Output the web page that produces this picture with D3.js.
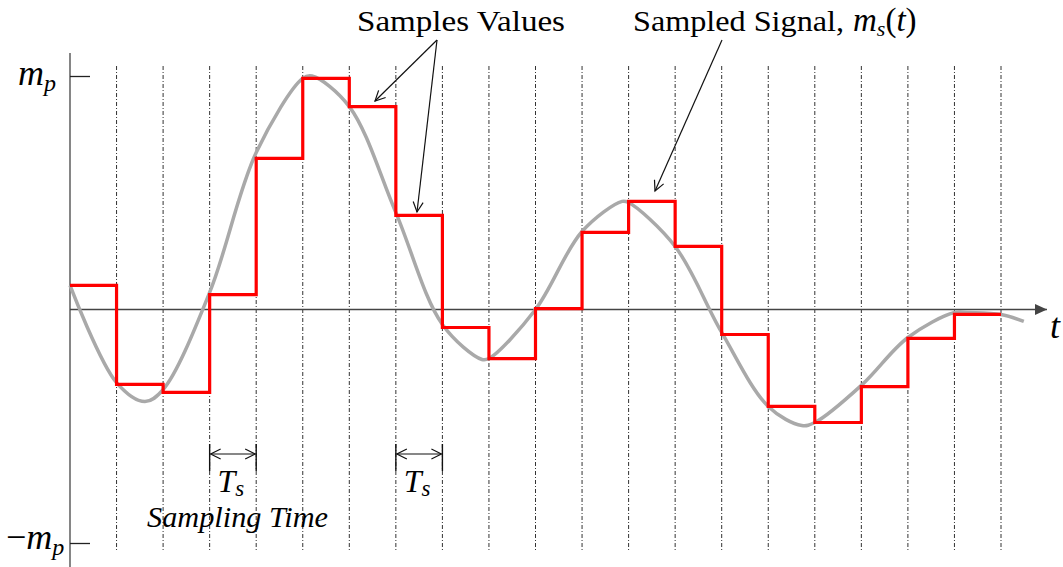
<!DOCTYPE html>
<html><head><meta charset="utf-8">
<script src="https://cdn.jsdelivr.net/npm/d3@7"></script>
<style>html,body{margin:0;padding:0;background:#fff;}svg{display:block;}</style>
</head><body>
<svg id="c" width="1063" height="567"></svg>
<script>
// sample index (time in units of Ts) and sampled values (normalised to m_p = 1)
const sampleT = [0,1,2,3,4,5,6,7,8,9,10,11,12,13,14,15,16,17,18,19];
const sampleV = [0.103,-0.321,-0.355,0.064,0.647,0.99,0.869,0.403,-0.077,-0.210,0.004,0.330,0.463,0.270,-0.107,-0.415,-0.484,-0.330,-0.124,-0.021];
const holdEnd = 20;
// continuous message signal m(t)
const curveT = [0,1,1.61,2,3,4,5,5.2,6,7,8,8.85,9,10,11,11.86,12,13,14,15,15.72,16,17,18,19,19.33,20,20.49];
const curveV = [0.103,-0.313,-0.394,-0.343,0.073,0.672,0.99,1.0,0.869,0.415,-0.064,-0.214,-0.21,0.0,0.334,0.463,0.458,0.27,-0.098,-0.415,-0.497,-0.484,-0.325,-0.12,-0.013,-0.013,-0.021,-0.051];
const yTicks = [1,-1];
const gridT = [1,2,3,4,5,6,7,8,9,10,11,12,13,14,15,16,17,18,19,20];
const tsMarks = [[3,4],[7,8]];

const svg = d3.select("#c");
const x = d3.scaleLinear().domain([0,20]).range([70,1001]);
const y = d3.scaleLinear().domain([-1,1]).range([543,76]);
const SERIF = "Liberation Serif, Times New Roman, serif";
const AX = "#444";

const defs = svg.append("defs");
defs.append("marker").attr("id","open").attr("viewBox","-12 -6 14 12")
  .attr("refX",0).attr("refY",0).attr("markerWidth",14).attr("markerHeight",12)
  .attr("markerUnits","userSpaceOnUse").attr("orient","auto-start-reverse")
  .append("path").attr("d","M-10,-5 L0,0 L-10,5").attr("fill","none").attr("stroke","#111").attr("stroke-width",1.2);
defs.append("marker").attr("id","tri").attr("viewBox","-12 -6 14 12")
  .attr("refX",0).attr("refY",0).attr("markerWidth",14).attr("markerHeight",12)
  .attr("markerUnits","userSpaceOnUse").attr("orient","auto")
  .append("path").attr("d","M-12,-5.5 L0,0 L-12,5.5 Z").attr("fill","#444");

// grid (sampling instants)
svg.append("g").selectAll("line").data(gridT).join("line")
  .attr("x1",d=>x(d)).attr("x2",d=>x(d)).attr("y1",66).attr("y2",551)
  .attr("stroke","#333").attr("stroke-width",1).attr("stroke-dasharray","4,2,1,2");

// y axis line
svg.append("line").attr("x1",x(0)).attr("x2",x(0)).attr("y1",53).attr("y2",567)
  .attr("stroke",AX).attr("stroke-width",1.3);
const yAxis = svg.append("g").attr("transform",`translate(${x(0)},0)`)
  .call(d3.axisRight(y).tickValues(yTicks).tickSize(20).tickFormat(""));
yAxis.select(".domain").remove();
yAxis.selectAll(".tick line").attr("stroke","#222").attr("stroke-width",1.3);

// x axis with arrow
svg.append("line").attr("x1",x(0)).attr("x2",1047).attr("y1",y(0)).attr("y2",y(0))
  .attr("stroke",AX).attr("stroke-width",1.3).attr("marker-end","url(#tri)");

// message signal
svg.append("path").datum(curveT.map((t,i)=>[t,curveV[i]]))
  .attr("d",d3.line().x(d=>x(d[0])).y(d=>y(d[1])).curve(d3.curveCatmullRom.alpha(0.5)))
  .attr("fill","none").attr("stroke","#a9a9a9").attr("stroke-width",3.5);

// sample-and-hold
const stepPts = sampleT.map((t,i)=>[t,sampleV[i]]).concat([[holdEnd,sampleV[sampleV.length-1]]]);
svg.append("path").datum(stepPts)
  .attr("d",d3.line().x(d=>x(d[0])).y(d=>y(d[1])).curve(d3.curveStepAfter))
  .attr("fill","none").attr("stroke","#ff0000").attr("stroke-width",3.2).attr("stroke-linejoin","miter");

// y tick labels (m_p, -m_p)
function mLabel(xp, yp, neg){
  const t = svg.append("text").attr("x",xp).attr("y",yp).attr("font-family",SERIF).attr("font-size",36);
  if(neg) t.append("tspan").text("−");
  t.append("tspan").attr("font-style","italic").text("m");
  t.append("tspan").attr("font-style","italic").attr("font-size",24).attr("dy",6).text("p");
}
mLabel(18,85,false);
mLabel(6,549,true);

// t label
svg.append("text").attr("x",1050).attr("y",338).attr("font-family",SERIF).attr("font-style","italic")
  .attr("font-size",36).text("t");

// Ts marks
tsMarks.forEach(([a,b])=>{
  [a,b].forEach(k=>svg.append("line").attr("x1",x(k)).attr("x2",x(k)).attr("y1",444).attr("y2",471)
    .attr("stroke","#111").attr("stroke-width",1.4));
  svg.append("line").attr("x1",x(a)+1).attr("x2",x(b)-1).attr("y1",454).attr("y2",454)
    .attr("stroke","#111").attr("stroke-width",1.2)
    .attr("marker-start","url(#open)").attr("marker-end","url(#open)");
  const tx = svg.append("text").attr("x",(x(a)+x(b))/2-2).attr("y",492).attr("text-anchor","middle")
    .attr("font-family",SERIF).attr("font-style","italic").attr("font-size",32);
  tx.append("tspan").text("T");
  tx.append("tspan").attr("font-size",23).attr("dy",4).text("s");
});

svg.append("text").attr("x",147).attr("y",527).attr("font-family",SERIF).attr("font-style","italic")
  .attr("font-size",29).attr("textLength",181).attr("lengthAdjust","spacingAndGlyphs").text("Sampling Time");

// annotations
svg.append("text").attr("x",357).attr("y",31).attr("font-family",SERIF).attr("font-size",30)
  .attr("textLength",208).attr("lengthAdjust","spacingAndGlyphs").text("Samples Values");
const sig = svg.append("text").attr("x",633).attr("y",31).attr("font-family",SERIF).attr("font-size",30);
sig.append("tspan").attr("textLength",211).attr("lengthAdjust","spacingAndGlyphs").text("Sampled Signal,");
sig.append("tspan").attr("x",853).attr("font-style","italic").attr("font-size",33).text("m");
sig.append("tspan").attr("font-style","italic").attr("font-size",22).attr("dy",5).text("s");
sig.append("tspan").attr("dy",-5).attr("font-size",33).text("(");
sig.append("tspan").attr("font-style","italic").attr("font-size",33).text("t");
sig.append("tspan").attr("font-size",33).text(")");

const ann = [[437,40,375,101],[437,40,417,212],[722,40,655,191]];
svg.append("g").selectAll("line").data(ann).join("line")
  .attr("x1",d=>d[0]).attr("y1",d=>d[1]).attr("x2",d=>d[2]).attr("y2",d=>d[3])
  .attr("stroke","#111").attr("stroke-width",1.2).attr("marker-end","url(#open)");
</script>
</body></html>
